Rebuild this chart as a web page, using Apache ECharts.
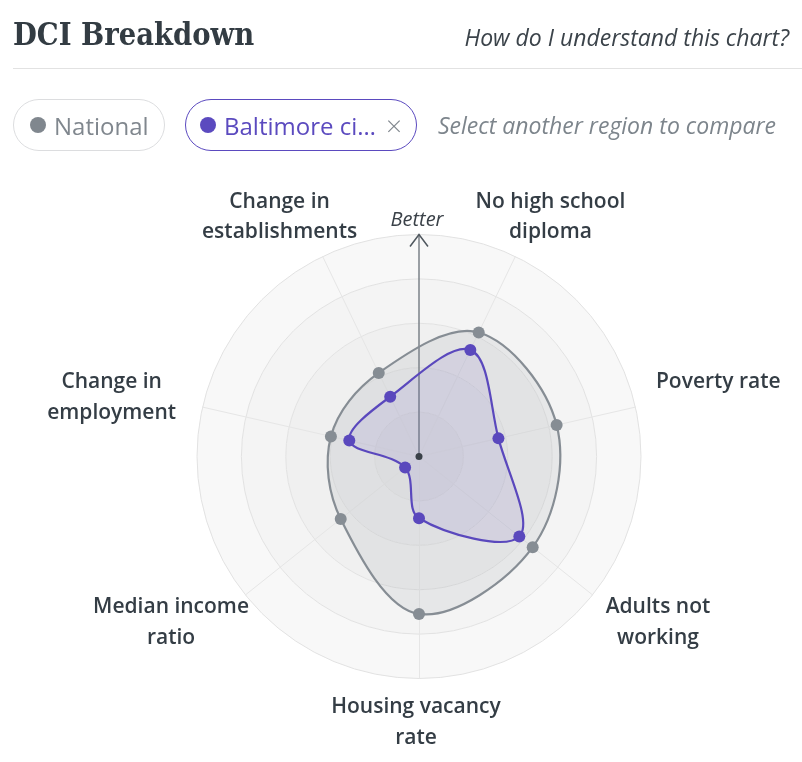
<!DOCTYPE html>
<html>
<head>
<meta charset="utf-8">
<script src="https://cdn.jsdelivr.net/npm/echarts@6/dist/echarts.min.js"></script>
<style>
html,body{margin:0;padding:0;background:#fff;width:802px;height:762px;overflow:hidden;}
#chart{position:absolute;left:0;top:0;width:802px;height:762px;}
#title{position:absolute;left:13px;top:15px;line-height:40px;font:bold 32px "DejaVu Serif",serif;color:#333c43;white-space:nowrap;transform:scaleX(0.858);transform-origin:0 0;}
#help{position:absolute;right:13px;top:21px;line-height:32px;font:italic 23px "Open Sans",sans-serif;color:#3b434a;white-space:nowrap;}
#rule{position:absolute;left:13px;right:0;top:68px;height:1px;background:#e2e2e2;}
.pill{position:absolute;top:99px;height:52px;box-sizing:border-box;border-radius:26px;display:flex;align-items:center;font:24px "Open Sans",sans-serif;white-space:nowrap;}
.dot{width:16px;height:16px;border-radius:8px;margin-right:8px;flex:none;}
#p1{left:13px;width:152px;border:1px solid #dcdddf;padding-left:16px;color:#80878e;}
#p1 .dot{background:#80878e;}
#p2{left:185px;width:232px;border:1px solid #5b4abf;padding-left:14px;color:#5b4abf;}
#p2 .dot{background:#5b4abf;}
#p2 .x{color:#80878e;font-size:28px;font-weight:300;margin-left:10px;line-height:52px;}
#hint{position:absolute;left:438px;top:109px;line-height:32px;font:italic 23px "Open Sans",sans-serif;color:#7d858c;white-space:nowrap;}
</style>
</head>
<body>
<div id="chart"></div>
<div id="title">DCI Breakdown</div>
<div id="help">How do I understand this chart?</div>
<div id="rule"></div>
<div class="pill" id="p1"><span class="dot"></span><span>National</span></div>
<div class="pill" id="p2"><span class="dot"></span><span>Baltimore ci…</span><span class="x">×</span></div>
<div id="hint">Select another region to compare</div>
<script>
// ---- data (clockwise from the top) ----
const categories = [
  'No high school\ndiploma',
  'Poverty rate',
  'Adults not\nworking',
  'Housing vacancy\nrate',
  'Median income\nratio',
  'Change in\nemployment',
  'Change in\nestablishments'
];
const nationalValues  = [62.0, 63.6, 65.5, 70.9, 45.1, 40.7, 41.8];
const baltimoreValues = [53.3, 36.7, 57.8, 27.8, 8.0, 32.2, 29.9];
const seriesNames = ['National', 'Baltimore city'];
const scaleMax = 100;
const ringCount = 5;

// ---- styling ----
const nationalColor = '#868d94';
const baltimoreColor = '#5a48bd';
const labelColor = '#343d45';
const labelShift = [16, 40, 31, -3, -40, -48, -24]; // horizontal label nudges (px)

const n = categories.length;
const angleOf = i => (i + 0.5) * 360 / n;

// radar lays indicators counter-clockwise; reorder so they read clockwise
const radarOrder = categories.map((_, k) => (n - k) % n);
const indicator = radarOrder.map(i => ({ name: categories[i], min: 0, max: scaleMax }));

const rich = {};
categories.forEach((c, i) => {
  const s = labelShift[i];
  rich['n' + i] = {
    fontSize: 21, fontWeight: 600, fontFamily: 'Open Sans', color: labelColor,
    lineHeight: 30.5, align: 'center',
    padding: s >= 0 ? [0, 0, 0, 2 * s] : [0, -2 * s, 0, 0]
  };
});

function nameFormatter(name) {
  const i = categories.indexOf(name);
  const lines = name.split('\n');
  if (lines.length === 1) lines.push(' ');
  return lines.map(l => '{n' + i + '|' + l + '}').join('\n');
}

function regionSeries(name, values, color, fill) {
  return {
    type: 'custom',
    name: name,
    coordinateSystem: 'polar',
    animation: false,
    silent: true,
    data: values.map((v, i) => [v, angleOf(i)]),
    renderItem: function (params, api) {
      const pt = api.coord([api.value(0), api.value(1)]);
      const children = [];
      if (params.dataIndex === 0) {
        const pts = values.map((v, i) => api.coord([v, angleOf(i)]));
        children.push({
          type: 'polygon',
          shape: { points: pts, smooth: 0.35 },
          style: { fill: fill, stroke: color, lineWidth: 2.2 }
        });
      }
      children.push({
        type: 'circle',
        shape: { cx: pt[0], cy: pt[1], r: 6 },
        style: { fill: color }
      });
      return { type: 'group', children: children };
    }
  };
}

const chart = echarts.init(document.getElementById('chart'), null, { renderer: 'canvas' });
chart.setOption({
  animation: false,
  backgroundColor: 'transparent',
  radar: {
    center: [419, 456.5],
    radius: 222,
    startAngle: 90 - 180 / n,
    splitNumber: ringCount,
    shape: 'circle',
    indicator: indicator,
    nameGap: 44,
    axisName: {
      formatter: nameFormatter,
      rich: rich,
      align: 'center',
      verticalAlign: 'middle',
      color: labelColor,
      fontSize: 21,
      fontWeight: 600,
      fontFamily: 'Open Sans',
      lineHeight: 30.5
    },
    splitArea: { show: true, areaStyle: { color: ['#e9e9ea', '#ececed', '#f0f0f0', '#f4f4f4', '#f8f8f8'] } },
    splitLine: { show: true, lineStyle: { color: '#e2e2e2', width: 1 } },
    axisLine: { show: true, lineStyle: { color: '#e6e6e6', width: 1 } },
    axisTick: { show: false },
    axisLabel: { show: false }
  },
  polar: { center: [419, 456.5], radius: 222 },
  angleAxis: {
    type: 'value', min: 0, max: 360, startAngle: 90, clockwise: true, show: false,
    axisLine: { show: false }, axisTick: { show: false }, axisLabel: { show: false },
    splitLine: { show: false }, splitArea: { show: false }
  },
  radiusAxis: {
    type: 'value', min: 0, max: scaleMax, show: false,
    axisLine: { show: false }, axisTick: { show: false }, axisLabel: { show: false },
    splitLine: { show: false }, splitArea: { show: false }
  },
  series: [
    {
      type: 'custom', coordinateSystem: 'polar', animation: false, silent: true,
      data: [[0, 0]],
      renderItem: function (params, api) {
        const c = api.coord([0, 0]);
        const tip = api.coord([scaleMax, 0]);
        return {
          type: 'group',
          children: [
            { type: 'line', shape: { x1: c[0], y1: c[1], x2: tip[0], y2: tip[1] }, style: { stroke: '#7b8288', lineWidth: 1.5 } },
            { type: 'polyline', shape: { points: [[tip[0] - 9, tip[1] + 12], [tip[0], tip[1]], [tip[0] + 9, tip[1] + 12]] }, style: { stroke: '#4f575e', lineWidth: 1.5, fill: null } },
            { type: 'text', style: { text: 'Better', x: tip[0] - 2, y: tip[1] - 14, align: 'center', verticalAlign: 'middle', textAlign: 'center', textVerticalAlign: 'middle', font: 'italic 20px "Open Sans"', fill: '#3a4148' } }
          ]
        };
      }
    },
    regionSeries(seriesNames[0], nationalValues, nationalColor, 'rgba(134,141,148,0.12)'),
    regionSeries(seriesNames[1], baltimoreValues, baltimoreColor, 'rgba(90,72,189,0.10)'),
    {
      type: 'custom', coordinateSystem: 'polar', animation: false, silent: true,
      data: [[0, 0]],
      renderItem: function (params, api) {
        const c = api.coord([0, 0]);
        return { type: 'circle', shape: { cx: c[0], cy: c[1], r: 3.5 }, style: { fill: '#3a4148' } };
      }
    }
  ]
});
</script>
</body>
</html>
